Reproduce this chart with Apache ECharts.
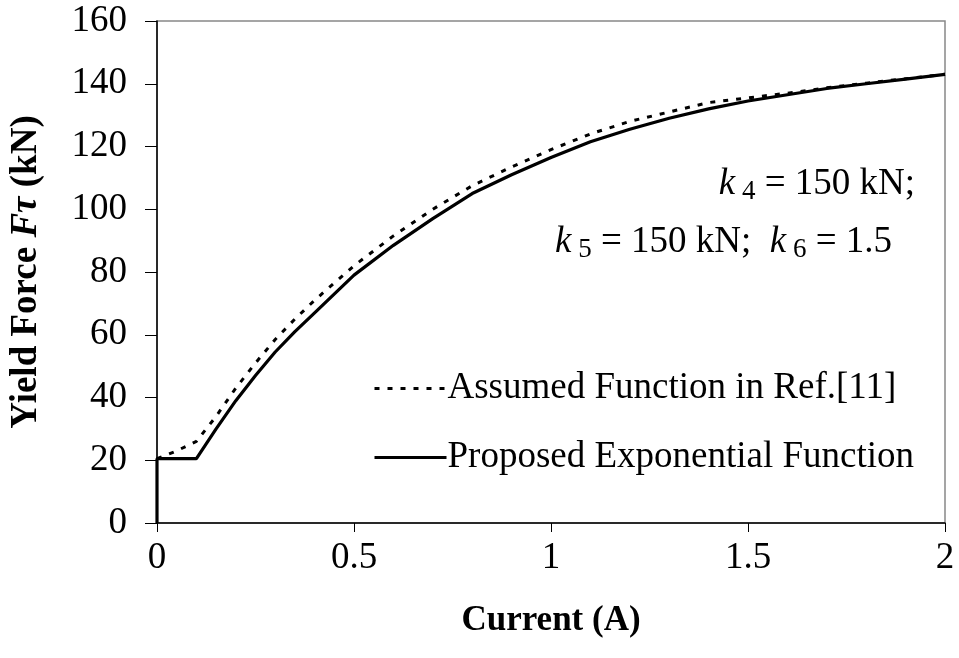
<!DOCTYPE html>
<html>
<head>
<meta charset="utf-8">
<script src="https://cdn.jsdelivr.net/npm/echarts@6/dist/echarts.min.js"></script>
<style>html,body{margin:0;padding:0;background:#fff}#c{width:959px;height:658px}</style>
</head>
<body>
<div id="c"></div>
<script>
const xTicks = ['0', '0.5', '1', '1.5', '2'];
const yTicks = [0, 20, 40, 60, 80, 100, 120, 140, 160];

const seriesNames = ['Assumed Function in Ref.[11]', 'Proposed Exponential Function'];

const assumedX = [0, 0.05, 0.1, 0.15, 0.2, 0.25, 0.3, 0.35, 0.4, 0.5, 0.6, 0.7, 0.8, 0.9, 1.0, 1.1, 1.2, 1.3, 1.4, 1.5, 1.6, 1.7, 1.8, 1.9, 2.0];
const assumedY = [20.5, 23, 26, 34, 43, 51, 58.5, 65, 71, 82, 91.5, 100, 107.5, 113.5, 119, 124, 128, 131, 134, 135.5, 137, 138.7, 140.2, 141.6, 143];

const proposedX = [0, 0, 0.1, 0.15, 0.2, 0.25, 0.3, 0.35, 0.4, 0.5, 0.6, 0.7, 0.8, 0.9, 1.0, 1.1, 1.2, 1.3, 1.4, 1.5, 1.6, 1.7, 1.8, 1.9, 2.0];
const proposedY = [0, 20.5, 20.5, 30, 39, 47, 54.5, 61, 67, 79, 88.5, 97, 105, 111, 116.5, 121.5, 125.5, 129, 132, 134.5, 136.5, 138.5, 140, 141.5, 143];

const font = 'Liberation Serif, Times New Roman, serif';
const pairs = (xs, ys) => xs.map((x, i) => [x, ys[i]]);
const annRich = {
  k: { fontFamily: font, fontSize: 37, fontStyle: 'italic', lineHeight: 42 },
  s: { fontFamily: font, fontSize: 27, lineHeight: 42, padding: [14, 0, 0, 0] },
  n: { fontFamily: font, fontSize: 37, lineHeight: 42 }
};

const chart = echarts.init(document.getElementById('c'));
chart.setOption({
  animation: false,
  backgroundColor: '#fff',
  grid: { left: 155, right: 14, top: 21, bottom: 135, show: true, borderColor: '#888', borderWidth: 1.5 },
  xAxis: {
    type: 'value', min: 0, max: 2, interval: 0.5,
    name: 'Current (A)', nameLocation: 'middle', nameGap: 80,
    nameTextStyle: { fontFamily: font, fontSize: 35, fontWeight: 'bold', color: '#000' },
    axisLine: { show: true, lineStyle: { color: '#000', width: 1.5 } },
    axisTick: { show: true, length: 9, lineStyle: { color: '#000', width: 1 } },
    axisLabel: { margin: 17, fontFamily: font, fontSize: 37, color: '#000',
      formatter: v => xTicks[Math.round(v / 0.5)] },
    splitLine: { show: false }
  },
  yAxis: {
    type: 'value', min: 0, max: 160, interval: 20,
    name: 'Yield Force {i|Fτ} (kN)', nameLocation: 'middle', nameGap: 112, nameRotate: 90,
    nameTextStyle: { fontFamily: font, fontSize: 37, fontWeight: 'bold', color: '#000',
      rich: { i: { fontFamily: font, fontSize: 37, fontWeight: 'bold', fontStyle: 'italic', color: '#000' } } },
    axisLine: { show: true, lineStyle: { color: '#000', width: 1.5 } },
    axisTick: { show: true, length: 12, lineStyle: { color: '#000', width: 1 } },
    axisLabel: { margin: 30, fontFamily: font, fontSize: 37, color: '#000',
      formatter: v => String(yTicks[Math.round(v / 20)]) },
    splitLine: { show: false }
  },
  legend: {
    orient: 'vertical', left: 368, top: 365, itemWidth: 72, itemHeight: 16, itemGap: 32,
    data: seriesNames,
    itemStyle: { opacity: 0 },
    lineStyle: { width: 3 },
    textStyle: { fontFamily: font, fontSize: 37, color: '#000', padding: [0, 0, 0, -4] }
  },
  graphic: [
    { type: 'text', right: 44, top: 164, style: { text: '{k|k}{s| 4}{n| = 150 kN;}', fill: '#000', rich: annRich } },
    { type: 'text', left: 555, top: 222, style: { text: '{k|k}{s| 5}{n| = 150 kN;  }{k|k}{s| 6}{n| = 1.5}', fill: '#000', rich: annRich } }
  ],
  series: [
    { name: seriesNames[0], type: 'line', data: pairs(assumedX, assumedY), symbol: 'none', z: 3,
      lineStyle: { color: '#000', width: 3, type: [5, 8] }, itemStyle: { color: '#000' } },
    { name: seriesNames[1], type: 'line', data: pairs(proposedX, proposedY), symbol: 'none', z: 2,
      lineStyle: { color: '#000', width: 3.2, type: 'solid' }, itemStyle: { color: '#000' } }
  ]
});
</script>
</body>
</html>
